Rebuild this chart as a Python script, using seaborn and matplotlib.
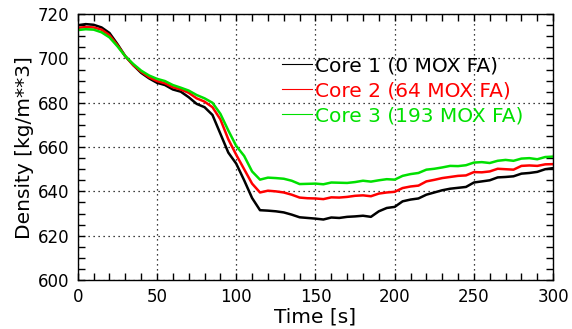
import numpy as np
import pandas as pd
import matplotlib
matplotlib.use("Agg")
from matplotlib import pyplot as plt
import seaborn as sns

time = np.arange(0, 301, 5)

core1 = [715.0, 715.5, 715.2, 714.0, 711.5, 706.5, 701.0, 697.0, 693.5, 691.0,
         689.0, 688.0, 686.0, 685.0, 682.5, 679.5, 678.0, 674.5, 666.0, 657.5,
         652.5, 645.0, 637.0, 631.5, 631.3, 631.0, 630.5, 629.5, 628.3, 628.0,
         627.7, 627.3, 628.2, 628.0, 628.5, 628.7, 629.0, 628.5, 631.0, 632.5,
         633.0, 635.5, 636.3, 636.8, 638.5, 639.5, 640.5, 641.2, 641.6, 642.0,
         644.0, 644.5, 645.0, 646.3, 646.5, 646.8, 648.0, 648.3, 648.8, 650.0,
         650.5]
core2 = [713.8, 714.2, 714.0, 713.0, 710.5, 706.0, 701.0, 697.0, 694.0, 691.5,
         689.8, 688.8, 687.0, 686.0, 684.5, 682.0, 680.5, 678.0, 672.5, 663.5,
         656.5, 650.0, 643.5, 639.5, 640.3, 640.0, 639.5, 638.5, 637.2, 636.9,
         636.8, 636.5, 637.3, 637.2, 637.5, 638.0, 638.2, 637.8, 639.0, 639.5,
         639.8, 641.5, 642.2, 642.6, 644.5, 645.2, 646.0, 646.5, 647.0, 647.2,
         648.7, 648.6, 649.0, 650.2, 650.0, 649.8, 651.5, 651.7, 651.5, 652.2,
         652.3]
core3 = [712.8, 713.2, 713.0, 711.8, 709.5, 705.5, 701.0, 697.5, 694.5, 692.3,
         690.8, 689.8, 688.0, 686.8, 685.5, 683.5, 682.0, 680.0, 675.0, 667.5,
         660.5, 656.0, 649.0, 645.3, 646.2, 646.0, 645.7, 644.8, 643.3, 643.4,
         643.5, 643.2, 644.0, 643.9, 643.8, 644.2, 644.8, 644.4, 645.0, 645.5,
         645.3, 647.0, 647.8, 648.3, 649.8, 650.2, 650.8, 651.5, 651.4, 651.8,
         653.0, 653.2, 652.8, 653.8, 654.2, 653.8, 654.8, 655.0, 654.5, 655.5,
         655.7]

labels = ['Core 1 (0 MOX FA)', 'Core 2 (64 MOX FA)', 'Core 3 (193 MOX FA)']
colors = ['#000000', '#ff0000', '#00e000']

df = pd.concat([pd.DataFrame({'time': time, 'density': v, 'core': lab})
                for v, lab in zip([core1, core2, core3], labels)])

plt.rcParams['font.family'] = ['DejaVu Sans']
fig = plt.figure(figsize=(5.72, 3.29), dpi=100)
ax = fig.add_axes([0.136, 0.149, 0.831, 0.808])

sns.lineplot(data=df, x='time', y='density', hue='core', palette=colors,
             linewidth=1.8, ax=ax)

ax.set_xlim(0, 300)
ax.set_ylim(600, 720)
ax.set_xticks(np.arange(0, 301, 50))
ax.set_yticks(np.arange(600, 721, 20))
ax.set_xticks(np.arange(0, 301, 10), minor=True)
ax.set_yticks(np.arange(600, 721, 5), minor=True)
ax.tick_params(which='both', direction='in', top=True, right=True,
               length=5, width=1.0, labelsize=12, pad=6)
ax.grid(True, which='major', color='black', linestyle=(0, (1, 3)), linewidth=0.9)
for s in ax.spines.values():
    s.set_linewidth(1.0)
ax.set_xlabel('Time [s]', fontsize=14.5, labelpad=1)
ax.set_ylabel('Density [kg/m**3]', fontsize=14.5, labelpad=3)

leg = ax.legend(loc='upper left', bbox_to_anchor=(0.408, 0.88), frameon=False,
                fontsize=14.5, labelcolor='linecolor', handlelength=1.5,
                handletextpad=0.15, labelspacing=0.3, borderpad=0)
for ln in leg.get_lines():
    ln.set_linewidth(0.8)

fig.savefig('out.png', dpi=100)
